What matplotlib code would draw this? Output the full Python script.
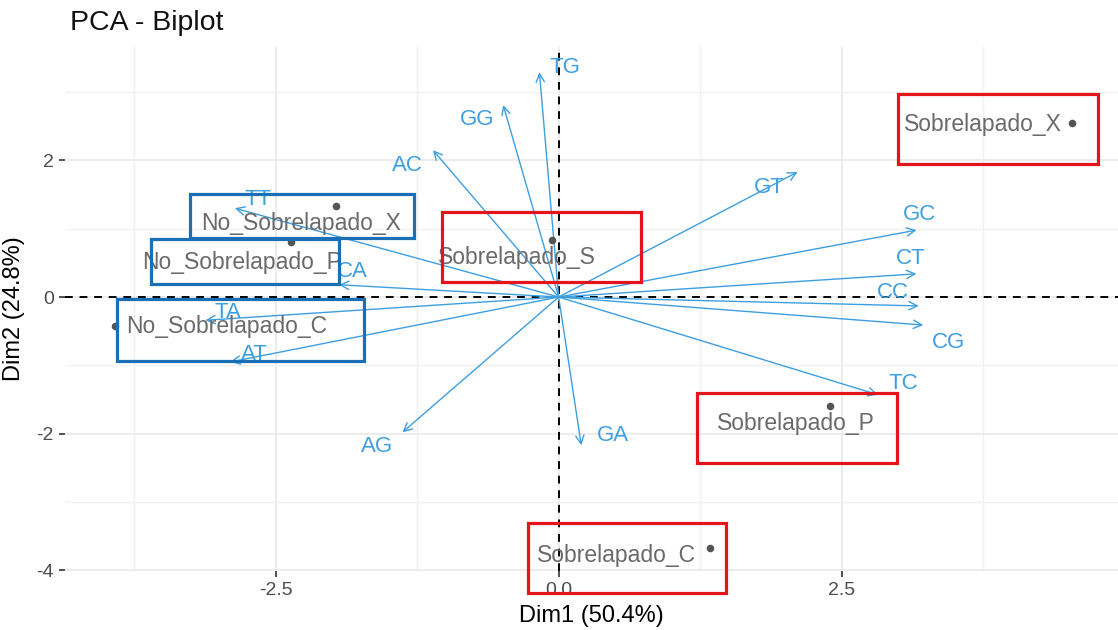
import matplotlib
matplotlib.use('Agg')
import matplotlib.pyplot as plt
from matplotlib.patches import Rectangle
import numpy as np

plt.rcParams['font.family'] = ['Liberation Sans', 'DejaVu Sans']
plt.rcParams['axes.unicode_minus'] = False

# individuals (scores on Dim1 / Dim2)
ind_names = ['Sobrelapado_X', 'No_Sobrelapado_X', 'No_Sobrelapado_P', 'Sobrelapado_S',
             'No_Sobrelapado_C', 'Sobrelapado_P', 'Sobrelapado_C']
ind_x = [4.53, -1.97, -2.36, -0.06, -3.92, 2.40, 1.34]
ind_y = [2.55, 1.33, 0.81, 0.83, -0.42, -1.60, -3.67]

# variables (arrow tips)
var_names = ['TG', 'GG', 'AC', 'TT', 'GT', 'GC', 'CT', 'CC', 'CG', 'TC', 'GA', 'AG', 'AT', 'TA', 'CA']
var_x = [-0.17, -0.49, -1.11, -2.86, 2.11, 3.16, 3.16, 3.18, 3.22, 2.82, 0.20, -1.38, -2.90, -3.12, -1.94]
var_y = [3.29, 2.81, 2.15, 1.30, 1.83, 0.98, 0.34, -0.13, -0.41, -1.43, -2.17, -1.98, -0.95, -0.34, 0.18]

# highlight boxes drawn over the plot (x0, x1, y0, y1)
red_boxes = [(2.995, 4.76, 1.95, 2.97), (-1.03, 0.73, 0.22, 1.24),
             (1.22, 2.99, -2.43, -1.41), (-0.27, 1.48, -4.33, -3.31)]
blue_boxes = [(-3.26, -1.28, 0.86, 1.51), (-3.60, -1.94, 0.19, 0.85),
              (-3.90, -1.72, -0.94, -0.03)]

# label offsets (pixels) from their point / arrow tip, as placed by repel
ind_off = [(-89, -2), (-35, -17), (-49, -21), (-35, -17), (112, -1), (-34, -17), (-94, -8)]
var_off = [(26, 5), (-26, -14), (-26, -15), (23, 9), (-28, -15), (3, 16), (-6, 15), (-26, 13),
           (25, -17), (25, 11), (32, 10), (-25, -14), (24, 7), (23, 8), (13, 13)]

VAR_COL = '#3d9fe0'
IND_COL = '#6a6a6a'

fig = plt.figure(figsize=(11.18, 6.30), dpi=100)
ax = fig.add_axes([65/1118, 59/630, 1 - 65/1118, (571-47)/630])

ax.set_xlim(-4.36, 4.94)
ax.set_ylim(-4.01, 3.66)

# grid like theme_minimal
ax.set_xticks([-2.5, 0.0, 2.5])
ax.set_xticklabels(['-2.5', '0.0', '2.5'])
ax.set_yticks([-4, -2, 0, 2])
ax.set_xticks([-3.75, -1.25, 1.25, 3.75], minor=True)
ax.set_yticks([-3, -1, 1, 3], minor=True)
ax.grid(True, which='major', color='#ebebeb', lw=1.3)
ax.grid(True, which='minor', color='#f1f1f1', lw=1.0)
ax.set_axisbelow(True)
for s in ax.spines.values():
    s.set_visible(False)
ax.tick_params(which='major', length=4, width=1.2, color='#333333',
               labelsize=14, labelcolor='#4d4d4d', pad=4)
ax.tick_params(which='minor', length=0)

ax.axhline(0, color='black', lw=1.4, ls=(0, (4, 3.5)), zorder=2)
ax.axvline(0, color='black', lw=1.4, ls=(0, (4, 3.5)), zorder=2)

# variable arrows
for name, x, y, off in zip(var_names, var_x, var_y, var_off):
    ax.annotate('', xy=(x, y), xytext=(0, 0),
                arrowprops=dict(arrowstyle='->,head_length=0.6,head_width=0.3',
                                color=VAR_COL, lw=1.0, shrinkA=0, shrinkB=0,
                                mutation_scale=10), zorder=3)
    ax.annotate(name, xy=(x, y), xytext=off, textcoords='offset pixels',
                ha='center', va='center', color=VAR_COL, fontsize=16, zorder=4)

# individuals
ax.scatter(ind_x, ind_y, s=30, color='#555555', zorder=5, linewidths=0)
for name, x, y, off in zip(ind_names, ind_x, ind_y, ind_off):
    ax.annotate(name, xy=(x, y), xytext=off, textcoords='offset pixels',
                ha='center', va='center', color=IND_COL, fontsize=16.5, zorder=5)

for x0, x1, y0, y1 in red_boxes:
    ax.add_patch(Rectangle((x0, y0), x1 - x0, y1 - y0, fill=False, ec='#e3151b',
                           lw=2.3, clip_on=False, zorder=6))
for x0, x1, y0, y1 in blue_boxes:
    ax.add_patch(Rectangle((x0, y0), x1 - x0, y1 - y0, fill=False, ec='#1b6fb6',
                           lw=2.3, clip_on=False, zorder=6))

ax.set_xlabel('Dim1 (50.4%)', fontsize=17, color='black', labelpad=4)
ax.set_ylabel('Dim2 (24.8%)', fontsize=17, color='black')
ax.yaxis.set_label_coords(-0.038, 0.5)
fig.text(70/1118, 1 - 23/630, 'PCA - Biplot', fontsize=20.5, ha='left', va='center',
         color='#111111')

fig.savefig('out.png', dpi=100)
plt.close(fig)
